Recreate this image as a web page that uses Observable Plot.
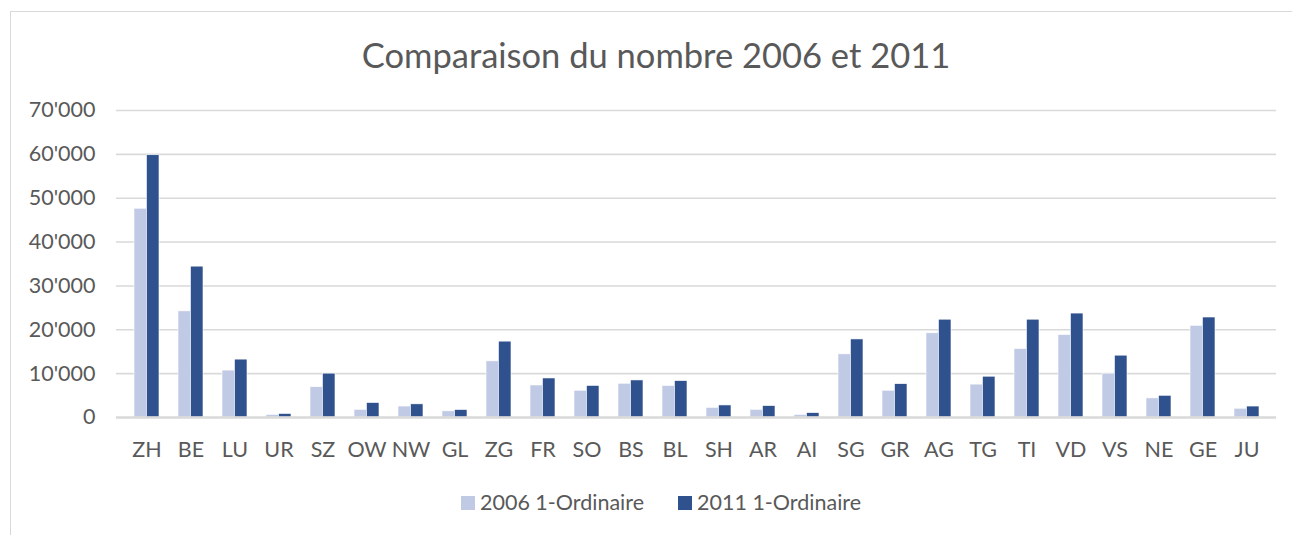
<!DOCTYPE html>
<html>
<head>
<meta charset="utf-8">
<script src="https://cdn.jsdelivr.net/npm/d3@7"></script>
<script src="https://cdn.jsdelivr.net/npm/@observablehq/plot@0.6"></script>
<style>
  html, body { margin: 0; padding: 0; background: #fff; }
  body { width: 1292px; height: 535px; position: relative; overflow: hidden; font-family: Lato, "Open Sans", sans-serif; color: #595959; }
  #frame { position: absolute; left: 10px; top: 11px; width: 1300px; height: 600px; border: 1px solid #d9d9d9; box-sizing: border-box; }
  #title { position: absolute; left: 10px; width: 1292px; top: 34px; text-align: center; font-size: 34.5px; line-height: 42px; }
  #chart { position: absolute; left: 0; top: 90px; }
  #legend { position: absolute; left: 15px; width: 1292px; top: 488px; display: flex; justify-content: center; gap: 34px; font-size: 21.5px; line-height: 28px; }
  #legend span.sw { display: inline-block; width: 14px; height: 14px; margin-right: 5px; vertical-align: 0px; }
</style>
</head>
<body>
<div id="frame"></div>
<div id="title">Comparaison du nombre 2006 et 2011</div>
<div id="chart"></div>
<div id="legend"></div>
<script>
const cantons = ["ZH","BE","LU","UR","SZ","OW","NW","GL","ZG","FR","SO","BS","BL","SH","AR","AI","SG","GR","AG","TG","TI","VD","VS","NE","GE","JU"];
const values2006 = [47600,24200,10700,600,6900,1750,2500,1400,12800,7300,6100,7700,7200,2200,1750,600,14400,6100,19200,7500,15600,18800,10000,4350,20900,2000];
const values2011 = [59800,34400,13200,800,10000,3300,3000,1700,17300,8900,7200,8450,8300,2750,2600,1000,17800,7600,22300,9300,22300,23700,14100,4950,22800,2500];
const seriesNames = ["2006 1-Ordinaire","2011 1-Ordinaire"];
const seriesColors = ["#c1cae4","#2f528f"];
const yTicks = [0,10000,20000,30000,40000,50000,60000,70000];

const fmt = d3.formatLocale({decimal: ".", thousands: "'", grouping: [3], currency: ["", ""]}).format(",d");

const data2006 = cantons.map((c, i) => ({canton: c, value: values2006[i]}));
const data2011 = cantons.map((c, i) => ({canton: c, value: values2011[i]}));

const width = 1292, marginLeft = 116, marginRight = 16;
const pInner = 0.44;
const bandwidth = (width - marginLeft - marginRight) / cantons.length * (1 - pInner);
const half = bandwidth / 2;

const chart = Plot.plot({
  width,
  height: 380,
  marginLeft,
  marginRight,
  marginTop: 20,
  marginBottom: 53,
  style: {fontFamily: "Lato, 'Open Sans', sans-serif", fontSize: "21.5px", color: "#595959", background: "transparent"},
  x: {domain: cantons, paddingInner: pInner, paddingOuter: pInner / 2, label: null, tickSize: 0, tickPadding: 24},
  y: {domain: [0, 70000], ticks: yTicks, tickFormat: fmt, label: null, tickSize: 0, tickPadding: 21},
  marks: [
    Plot.ruleY(yTicks.filter(d => d > 0), {stroke: "#d9d9d9", strokeWidth: 1.6}),
    Plot.barY(data2006, {x: "canton", y: "value", fill: seriesColors[0], insetRight: half, stroke: "#fff", strokeWidth: 0.6}),
    Plot.barY(data2011, {x: "canton", y: "value", fill: seriesColors[1], insetLeft: half, stroke: "#fff", strokeWidth: 0.6}),
    Plot.ruleY([0], {stroke: "#d9d9d9", strokeWidth: 2.4})
  ]
});
chart.querySelectorAll("[aria-label$='axis'] path, [aria-label$='axis'] line").forEach(n => n.remove());
document.getElementById("chart").appendChild(chart);

const legend = document.getElementById("legend");
seriesNames.forEach((n, i) => {
  const item = document.createElement("div");
  item.innerHTML = `<span class="sw" style="background:${seriesColors[i]}"></span>${n}`;
  legend.appendChild(item);
});
</script>
</body>
</html>
